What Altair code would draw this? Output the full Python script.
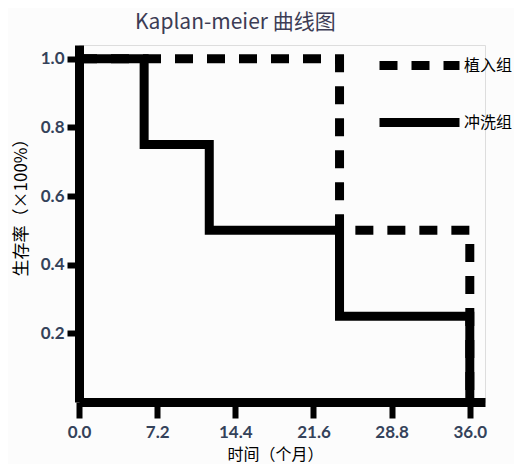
import altair as alt
import pandas as pd

groups = ["植入组", "冲洗组"]
implant_time = [0, 24, 36]
implant_surv = [1.0, 0.5, 0.0]
wash_time = [0, 6, 12, 24, 36]
wash_surv = [1.0, 0.75, 0.5, 0.25, 0.0]
x_ticks = [0.0, 7.2, 14.4, 21.6, 28.8, 36.0]
y_ticks = [0.2, 0.4, 0.6, 0.8, 1.0]

df = pd.concat([
    pd.DataFrame({"t": implant_time, "s": implant_surv, "g": groups[0]}),
    pd.DataFrame({"t": wash_time, "s": wash_surv, "g": groups[1]}),
])

label_font = "Lato"
label_color = "#34425a"
cjk = "Noto Sans CJK SC"

chart = alt.Chart(df).mark_line(
    interpolate="step-after", strokeWidth=9, color="black", strokeCap="butt", strokeJoin="miter"
).encode(
    x=alt.X("t:Q", scale=alt.Scale(domain=[0, 37.4], nice=False, zero=False),
            axis=alt.Axis(values=x_ticks, format=".1f", title="时间（个月）", grid=False,
                          domainWidth=9, domainColor="black", tickWidth=6, tickSize=16,
                          tickColor="black", labelFont=label_font, labelFontSize=17,
                          labelFontWeight="bold", labelColor=label_color, labelPadding=6,
                          titleFont=cjk, titleFontSize=16, titleFontWeight="normal",
                          titleColor="black", titleX=196, titleY=52, titleBaseline="middle",
                          titleAlign="center", labelFlush=False)),
    y=alt.Y("s:Q", scale=alt.Scale(domain=[0, 1.04], nice=False),
            axis=alt.Axis(values=y_ticks, format=".1f", title="生存率（×100%）", grid=False,
                          domainWidth=9, domainColor="black", tickWidth=6, tickSize=12,
                          tickColor="black", labelFont=label_font, labelFontSize=17,
                          labelFontWeight="bold", labelColor=label_color, labelPadding=3,
                          titleFont=cjk, titleFontSize=17, titleFontWeight="normal",
                          titleColor="black", titleX=-58, titleY=158, titleAngle=-90,
                          titleBaseline="middle", titleAlign="center")),
    strokeDash=alt.StrokeDash("g:N", scale=alt.Scale(domain=groups, range=[[18, 14], [1, 0]]),
                              legend=alt.Legend(title=None, orient="none", legendX=296, legendY=-8,
                                                symbolType="stroke", symbolSize=6400,
                                                symbolStrokeWidth=9, symbolStrokeColor="black",
                                                labelFont=cjk, labelFontSize=16, labelColor="black",
                                                labelOffset=0, rowPadding=0, clipHeight=57)),
).properties(
    width=406, height=357,
    title=alt.TitleParams("Kaplan-meier 曲线图", anchor="start", frame="group", dx=56, dy=10,
                          font="Noto Sans CJK SC", fontSize=21, fontWeight="normal",
                          color="#3c3c55", offset=14),
    padding={"left": 71, "top": 37, "right": 29, "bottom": 62},
    autosize=alt.AutoSizeParams(type="none"),
).configure_view(stroke=None).configure(background="#fcfcfc")

chart.save("out.html", embed_options={"renderer": "svg", "actions": False})
